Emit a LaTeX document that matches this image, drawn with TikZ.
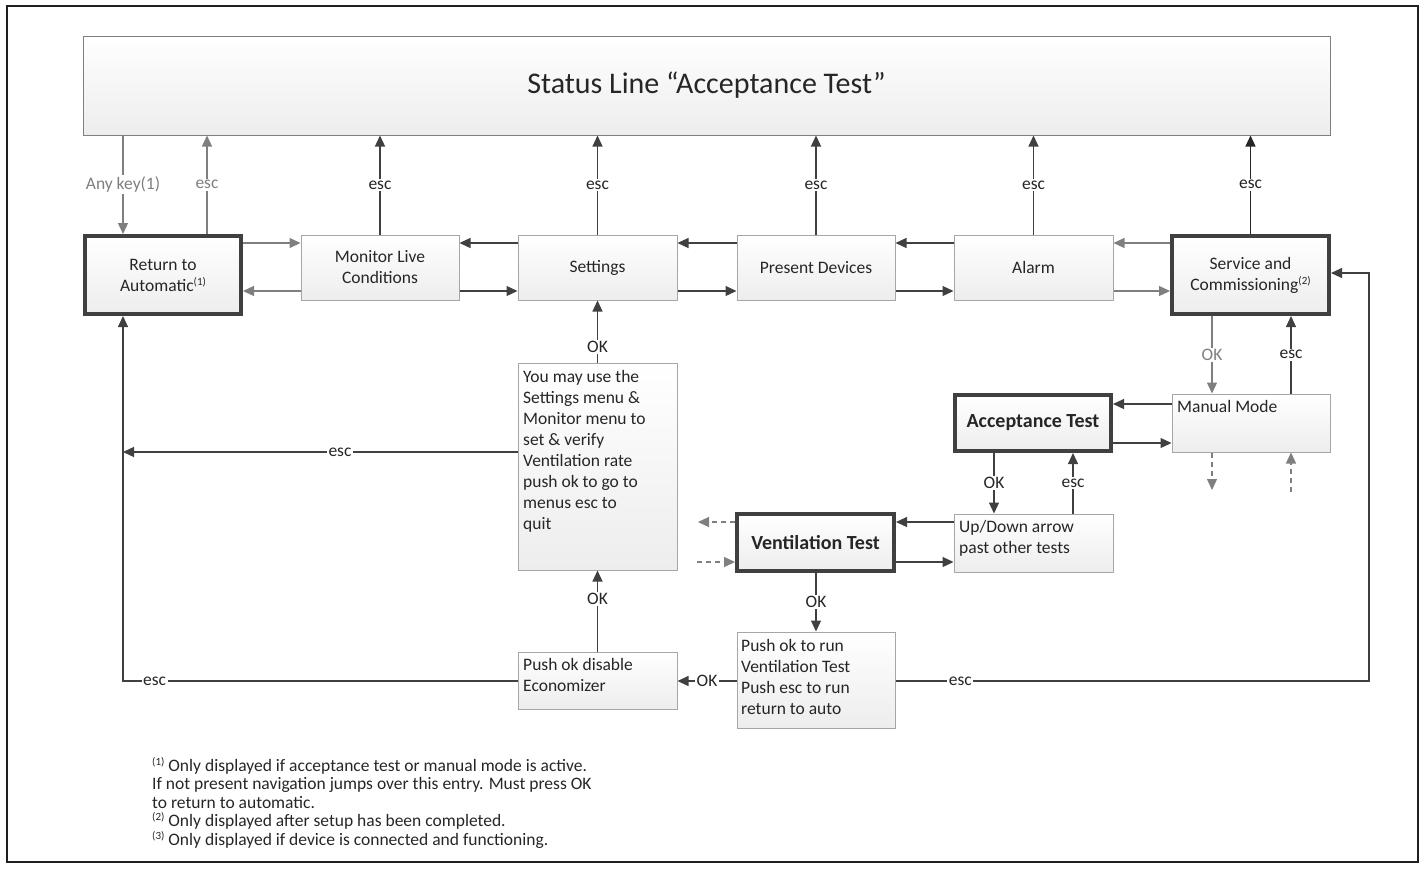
\documentclass[tikz,border=0pt]{standalone}
\usepackage{fontspec}
\setmainfont{Carlito}
\usetikzlibrary{arrows.meta}
\definecolor{dk}{HTML}{404040}
\definecolor{gy}{HTML}{7F7F7F}
\definecolor{bx}{HTML}{A6A6A6}
\definecolor{txt}{HTML}{262626}
\definecolor{bot}{HTML}{EDEDED}
\newcommand\labfont{\fontsize{17.5}{21}\selectfont}
\newcommand\boldfont{\fontsize{20}{24}\selectfont\bfseries}
\newcommand\supmark[1]{\raisebox{6pt}{\fontsize{11}{11}\selectfont(#1)}}
\tikzset{
  plainbox/.style={draw=bx,line width=1pt,top color=white,bottom color=bot,inner sep=0pt,text=txt,font=\labfont,align=center},
  heavybox/.style={draw=dk,line width=4pt,top color=white,bottom color=bot,inner sep=0pt,text=txt,align=center},
  darr/.style={draw=dk,line width=1.2pt,-{Triangle[length=11pt,width=10pt]}},
  garr/.style={draw=gy,line width=1.2pt,-{Triangle[length=11pt,width=10pt]}},
  dashline/.style={dash pattern=on 5pt off 4pt},
  lab/.style={fill=white,inner sep=1.5pt,text=txt,font=\labfont},
  glab/.style={fill=white,inner sep=1.5pt,text=gy,font=\labfont},
  txtn/.style={anchor=north west,align=left,inner sep=0pt,text=txt,font=\labfont}
}
\begin{document}
\begin{tikzpicture}[x=1pt,y=-1pt]
\useasboundingbox (0,0) rectangle (1424,868);
\draw[line width=2.5pt,color=black!88] (7,6) rectangle (1418,862);

% status line
\node[draw=gy,line width=1pt,top color=white,bottom color=bot,minimum width=1247pt,minimum height=99pt,inner sep=0pt,text=txt,font=\fontsize{30}{36}\selectfont] (status) at (706.5,85.5) {Status Line “Acceptance Test”};

% main row
\node[heavybox,font=\labfont,minimum width=156pt,minimum height=78pt] (ret) at (163,275) {Return to\\Automatic\supmark{1}};
\node[plainbox,minimum width=158pt,minimum height=65pt] (mon) at (380,267.5) {Monitor Live\\Conditions};
\node[plainbox,minimum width=159pt,minimum height=65pt] (set) at (597.5,267.5) {Settings};
\node[plainbox,minimum width=158pt,minimum height=65pt] (pres) at (816,267.5) {Present Devices};
\node[plainbox,minimum width=159pt,minimum height=65pt] (alarm) at (1033.5,267.5) {Alarm};
\node[heavybox,font=\labfont,minimum width=157pt,minimum height=78pt] (serv) at (1250.5,275) {Service and\\Commissioning\supmark{2}};

% lower boxes
\node[plainbox,minimum width=158pt,minimum height=58pt] (man) at (1251,423) {};
\node[txtn] (mant) at (1177,400) {Manual Mode};
\node[heavybox,font=\boldfont,minimum width=156pt,minimum height=56pt] (acc) at (1033,423) {Acceptance Test};
\node[plainbox,minimum width=159pt,minimum height=58pt] (ud) at (1033.5,543) {};
\node[txtn] (udt) at (959,520) {Up/Down arrow\\past other tests};
\node[heavybox,font=\boldfont,minimum width=157pt,minimum height=57pt] (vent) at (815.5,542.5) {Ventilation Test};
\node[plainbox,minimum width=158pt,minimum height=96pt] (run) at (816,680) {};
\node[txtn] (runt) at (741,639) {Push ok to run\\Ventilation Test\\Push esc to run\\return to auto};
\node[plainbox,minimum width=159pt,minimum height=57pt] (eco) at (597.5,680.5) {};
\node[txtn] (ecot) at (523,658) {Push ok disable\\Economizer};
\node[plainbox,minimum width=159pt,minimum height=207pt] (you) at (597.5,466.5) {};
\node[txtn] (yout) at (523,370) {You may use the\\Settings menu \&\\Monitor menu to\\set \& verify\\Ventilation rate\\push ok to go to\\menus esc to\\quit};

% helper coordinates
\coordinate (yT) at (0,243);
\coordinate (yB) at (0,291);
\coordinate (xAny) at (123,0);
\coordinate (xEscR) at (207,0);
\coordinate (xRight) at (1369,0);
\coordinate (yS) at (0,273);
\coordinate (xOK1) at (1212,0);
\coordinate (xEsc1) at (1291,0);
\coordinate (yM1) at (0,404);
\coordinate (yM2) at (0,443);
\coordinate (md1) at (1212,490);
\coordinate (md2) at (1291,492);
\coordinate (xOK2) at (994,0);
\coordinate (xEsc2) at (1073,0);
\coordinate (yV1) at (0,522);
\coordinate (yV2) at (0,562);
\coordinate (vd1) at (698,522);
\coordinate (vd2) at (697,562);
\coordinate (yE) at (0,681);
\coordinate (yY) at (0,452);

% vertical to status
\draw[garr] (status.south -| xAny) -- node[glab]{Any key(1)} (ret.north -| xAny);
\draw[garr] (ret.north -| xEscR) -- node[glab]{esc} (status.south -| xEscR);
\draw[darr] (mon.north) -- node[lab]{esc} (status.south -| mon.north);
\draw[darr] (set.north) -- node[lab]{esc} (status.south -| set.north);
\draw[darr] (pres.north) -- node[lab]{esc} (status.south -| pres.north);
\draw[darr] (alarm.north) -- node[lab]{esc} (status.south -| alarm.north);
\draw[darr,draw=black!85] (serv.north) -- node[lab]{esc} (status.south -| serv.north);

% row arrows
\draw[garr] (ret.east |- yT) -- (mon.west |- yT);
\draw[darr] (set.west |- yT) -- (mon.east |- yT);
\draw[darr] (pres.west |- yT) -- (set.east |- yT);
\draw[darr] (alarm.west |- yT) -- (pres.east |- yT);
\draw[garr] (serv.west |- yT) -- (alarm.east |- yT);
\draw[garr] (mon.west |- yB) -- (ret.east |- yB);
\draw[darr] (mon.east |- yB) -- (set.west |- yB);
\draw[darr] (set.east |- yB) -- (pres.west |- yB);
\draw[darr] (pres.east |- yB) -- (alarm.west |- yB);
\draw[garr] (alarm.east |- yB) -- (serv.west |- yB);

% service / manual
\draw[garr] (serv.south -| xOK1) -- node[glab]{OK} (man.north -| xOK1);
\draw[darr] (man.north -| xEsc1) -- node[lab]{esc} (serv.south -| xEsc1);
\draw[darr] (man.west |- yM1) -- (acc.east |- yM1);
\draw[darr] (acc.east |- yM2) -- (man.west |- yM2);
\draw[garr,dashline] (man.south -| md1) -- (md1);
\draw[garr,dashline] (md2) -- (man.south -| md2);

% acceptance / up-down
\draw[darr] (acc.south -| xOK2) -- node[lab]{OK} (ud.north -| xOK2);
\draw[darr] (ud.north -| xEsc2) -- node[lab]{esc} (acc.south -| xEsc2);
\draw[darr] (ud.west |- yV1) -- (vent.east |- yV1);
\draw[darr] (vent.east |- yV2) -- (ud.west |- yV2);
\draw[garr,dashline] (vent.west |- vd1) -- (vd1);
\draw[garr,dashline] (vd2) -- (vent.west |- vd2);

% ventilation flow
\draw[darr] (vent.south -| run.north) -- node[lab]{OK} (run.north);
\draw[darr] (run.west |- yE) -- node[lab]{OK} (eco.east |- yE);
\draw[darr] (eco.north) -- node[lab,pos=0.65]{OK} (you.south);
\draw[darr] (you.north) -- node[lab,pos=0.25]{OK} (set.south);
\draw[darr] (you.west |- yY) -- node[lab,pos=0.45]{esc} (xAny |- yY);
\draw[darr] (eco.west |- yE) -- node[lab,pos=0.92]{esc} (xAny |- yE) -- (ret.south -| xAny);
\draw[darr] (run.east |- yE) -- node[lab,pos=0.137]{esc} (xRight |- yE) -- (xRight |- yS) -- (serv.east |- yS);

% footnotes
\node[txtn,font=\fontsize{17.5}{18.5}\selectfont] (notes) at (152,757) {\supmark{1} Only displayed if acceptance test or manual mode is active.\\If not present navigation jumps over this entry. Must press OK\\to return to automatic.\\\supmark{2} Only displayed after setup has been completed.\\\supmark{3} Only displayed if device is connected and functioning.};
\end{tikzpicture}
\end{document}
